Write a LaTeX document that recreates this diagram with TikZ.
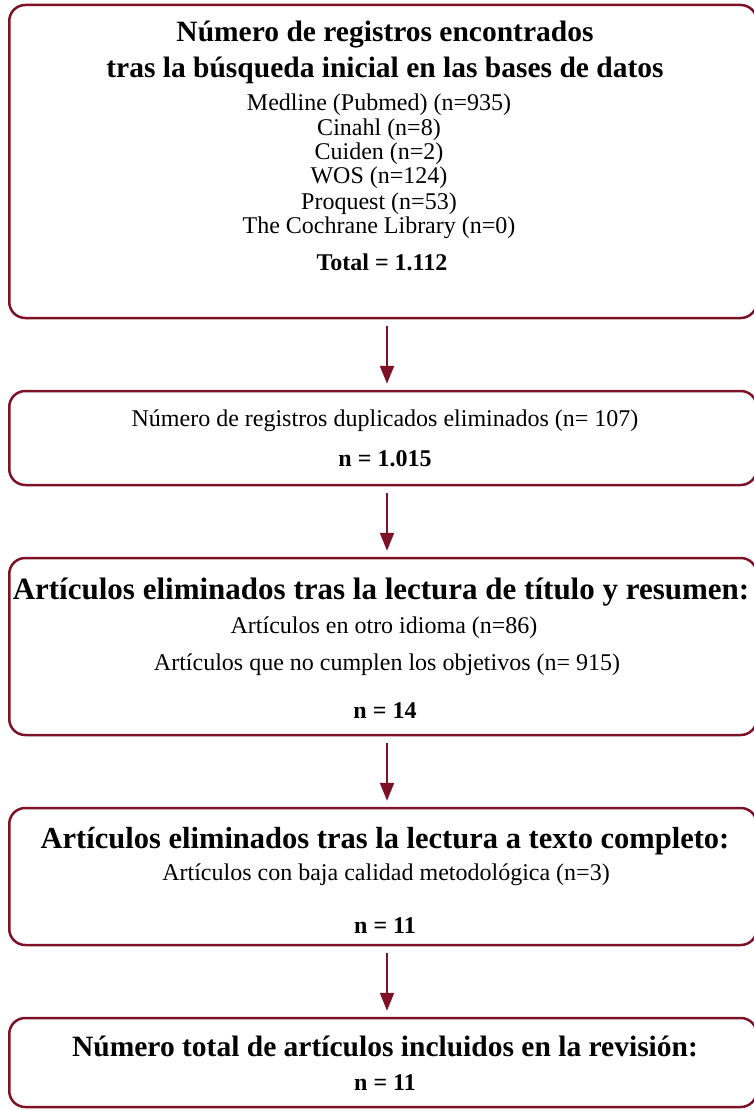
\documentclass[tikz,border=0pt]{standalone}
\usepackage{fontspec}
\setmainfont{Liberation Serif}
\usetikzlibrary{arrows.meta}
\definecolor{granate}{RGB}{125,18,38}

\begin{document}
\begin{tikzpicture}[
            x=1pt, y=-1pt,
            caja/.style={rectangle, rounded corners=16pt, draw=granate, line width=2.5pt, minimum width=747.5pt, inner sep=0pt},
            titulo/.style={font=\fontsize{29.5}{33}\selectfont\bfseries, anchor=base, inner sep=0pt},
            texto/.style={font=\fontsize{24}{26}\selectfont, anchor=base, inner sep=0pt},
            flecha/.style={draw=granate, line width=2.2pt, -{Triangle[width=14pt,length=18pt]}, shorten <=7pt, shorten >=6pt},
            ]
            \useasboundingbox (0,0) rectangle (754,1110);

            % cajas
            \node (B1) [caja, minimum height=313pt] at (383,161.5) {};
            \node (B2) [caja, minimum height=94pt] at (383,438) {};
            \node (B3) [caja, minimum height=177pt] at (383,646.5) {};
            \node (B4) [caja, minimum height=137pt] at (383,876.5) {};
            \node (B5) [caja, minimum height=89pt] at (383,1062.5) {};

            % busqueda inicial
            \node (T1a) [titulo] at (385,42) {Número de registros encontrados};
            \node (T1b) [titulo] at (385,78) {tras la búsqueda inicial en las bases de datos};
            \node (L1) [texto] at (379,111) {Medline (Pubmed) (n=935)};
            \node (L2) [texto] at (379,135.5) {Cinahl (n=8)};
            \node (L3) [texto] at (379,160) {Cuiden (n=2)};
            \node (L4) [texto] at (379,184) {WOS (n=124)};
            \node (L5) [texto] at (379,209) {Proquest (n=53)};
            \node (L6) [texto] at (379,233) {The Cochrane Library (n=0)};
            \node (N1) [texto, font=\fontsize{24}{26}\selectfont\bfseries] at (382,270) {Total = 1.112};

            % duplicados
            \node (L7) [texto] at (385,426) {Número de registros duplicados eliminados (n= 107)};
            \node (N2) [texto, font=\fontsize{24}{26}\selectfont\bfseries] at (385,466) {n = 1.015};

            % titulo y resumen
            \node (T3) [titulo, font=\fontsize{31}{34}\selectfont\bfseries] at (381,599) {Artículos eliminados tras la lectura de título y resumen:};
            \node (L8) [texto] at (384,633) {Artículos en otro idioma (n=86)};
            \node (L9) [texto] at (387,670) {Artículos que no cumplen los objetivos (n= 915)};
            \node (N3) [texto, font=\fontsize{24}{26}\selectfont\bfseries] at (385,718) {n = 14};

            % texto completo
            \node (T4) [titulo, font=\fontsize{30.5}{34}\selectfont\bfseries] at (385,848) {Artículos eliminados tras la lectura a texto completo:};
            \node (L10) [texto] at (386,880) {Artículos con baja calidad metodológica (n=3)};
            \node (N4) [texto, font=\fontsize{24}{26}\selectfont\bfseries] at (385,933) {n = 11};

            % incluidos
            \node (T5) [titulo] at (385,1056) {Número total de artículos incluidos en la revisión:};
            \node (N5) [texto, font=\fontsize{24}{26}\selectfont\bfseries] at (385,1090) {n = 11};

            \draw[flecha] ([xshift=4pt]B1.south) -- ([xshift=4pt]B2.north);
            \draw[flecha] ([xshift=4pt]B2.south) -- ([xshift=4pt]B3.north);
            \draw[flecha] ([xshift=4pt]B3.south) -- ([xshift=4pt]B4.north);
            \draw[flecha] ([xshift=4pt]B4.south) -- ([xshift=4pt]B5.north);
\end{tikzpicture}
\end{document}
